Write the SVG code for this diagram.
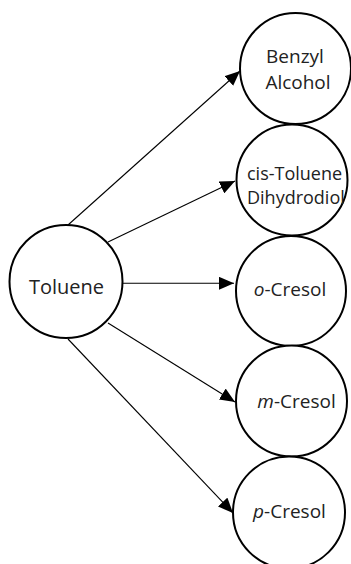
<svg xmlns="http://www.w3.org/2000/svg" width="351" height="564" viewBox="0 0 351 564">
<defs>
<style>
.node{fill:#fff;stroke:#000;stroke-width:2}
.lbl{font-family:"Open Sans","Noto Sans","Liberation Sans",sans-serif;font-size:19px;fill:#222;text-anchor:middle}
.conn line{stroke:#000;stroke-width:1.1}
</style>
<marker id="ah" viewBox="0 0 15 13" refX="15" refY="6.5" markerWidth="15" markerHeight="13" markerUnits="userSpaceOnUse" orient="auto">
<path d="M0,0 L15,6.5 L0,13 Z" fill="#000"/>
</marker>
</defs>
<rect width="351" height="564" fill="#fff"/>
<g id="connectors" class="conn">
<line x1="68" y1="225" x2="240" y2="71" marker-end="url(#ah)"/>
<line x1="108" y1="242" x2="235" y2="181" marker-end="url(#ah)"/>
<line x1="123" y1="283.3" x2="234" y2="283.3" marker-end="url(#ah)"/>
<line x1="108" y1="323" x2="235" y2="402" marker-end="url(#ah)"/>
<line x1="68" y1="339" x2="233" y2="513" marker-end="url(#ah)"/>
</g>
<g id="toluene">
<circle class="node" cx="66" cy="281.5" r="56.5"/>
<text class="lbl" x="66.5" y="294" style="font-size:20px">Toluene</text>
</g>
<g id="benzyl-alcohol">
<circle class="node" cx="295.5" cy="68.5" r="55.5"/>
<text class="lbl" x="295" y="63">Benzyl</text>
<text class="lbl" x="298" y="89">Alcohol</text>
</g>
<g id="cis-toluene-dihydrodiol">
<circle class="node" cx="292" cy="180" r="55.5"/>
<text class="lbl" x="247" y="180" style="text-anchor:start;font-size:18px">cis-Toluene</text>
<text class="lbl" x="247" y="204" style="text-anchor:start;font-size:18px">Dihydrodiol</text>
</g>
<g id="o-cresol">
<circle class="node" cx="291" cy="291" r="55"/>
<text class="lbl" x="290" y="296"><tspan font-style="italic">o</tspan>-Cresol</text>
</g>
<g id="m-cresol">
<circle class="node" cx="291.5" cy="401" r="55.5"/>
<text class="lbl" x="296.5" y="408"><tspan font-style="italic">m</tspan>-Cresol</text>
</g>
<g id="p-cresol">
<circle class="node" cx="289" cy="512.5" r="56"/>
<text class="lbl" x="289.5" y="518"><tspan font-style="italic">p</tspan>-Cresol</text>
</g>
</svg>
